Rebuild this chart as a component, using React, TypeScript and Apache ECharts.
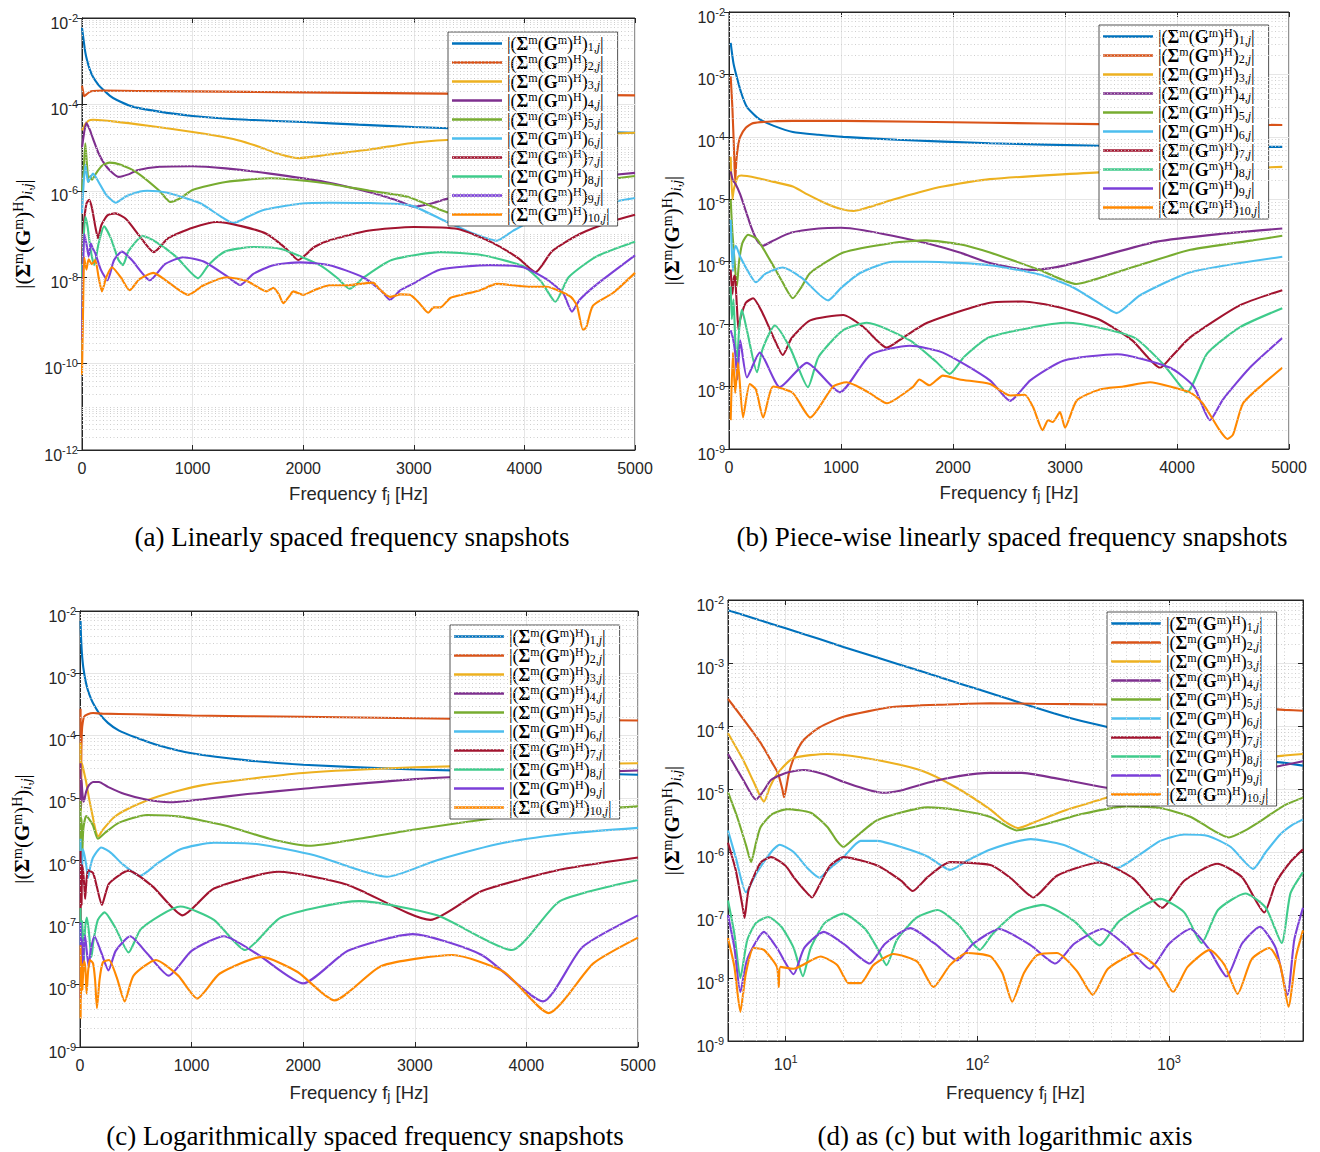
import { useEffect, useRef } from "react";
import * as echarts from "echarts";

type Pt = [number, number];

const LINE_COLORS = ["#0072BD", "#D95319", "#EDB120", "#7E2F8E", "#77AC30", "#4DBEEE", "#A2142F", "#3FCB8B", "#7B3FD8", "#FF8800"];

const CAPTIONS = [
  "(a) Linearly spaced frequency snapshots",
  "(b) Piece-wise linearly spaced frequency snapshots",
  "(c) Logarithmically spaced frequency snapshots",
  "(d) as (c) but with logarithmic axis",
];

const X_TICKS_LIN = [0, 1000, 2000, 3000, 4000, 5000];
const X_TICKS_LOG = [10, 100, 1000];
const Y_TICKS_A = [1e-12, 1e-10, 1e-8, 1e-6, 1e-4, 1e-2];
const Y_TICKS_B = [1e-9, 1e-8, 1e-7, 1e-6, 1e-5, 1e-4, 1e-3, 1e-2];
const MINOR_MULT = [1, 2, 3, 4, 5, 6, 7, 8, 9];

// ---------------- panel (a): linearly spaced snapshots ----------------
const a1: Pt[] = [[0, 6e-3], [15, 3e-3], [30, 1.6e-3], [45, 1.07e-3], [70, 6.5e-4], [100, 4.3e-4], [150, 2.8e-4], [190, 2.2e-4], [250, 1.6e-4], [315, 1.26e-4], [450, 9e-5], [700, 6.8e-5], [1000, 5.4e-5], [1500, 4.4e-5], [2000, 3.9e-5], [2500, 3.4e-5], [3000, 3e-5], [3500, 2.7e-5], [4000, 2.5e-5], [4500, 2.3e-5], [5000, 2.2e-5]];
const a2: Pt[] = [[0, 2.7e-4], [10, 2e-4], [20, 1.55e-4], [40, 1.7e-4], [70, 1.95e-4], [100, 2.05e-4], [200, 2.1e-4], [500, 2.05e-4], [1000, 2e-4], [2000, 1.9e-4], [3000, 1.8e-4], [4000, 1.7e-4], [5000, 1.62e-4]];
const a3: Pt[] = [[0, 2.5e-5], [30, 3.5e-5], [60, 4.2e-5], [100, 4.4e-5], [300, 4e-5], [600, 3.2e-5], [1000, 2.3e-5], [1200, 1.9e-5], [1400, 1.5e-5], [1600, 1.05e-5], [1750, 7.5e-6], [1950, 5.7e-6], [2100, 6.2e-6], [2250, 7e-6], [2600, 9e-6], [3000, 1.3e-5], [3300, 1.5e-5], [4000, 1.8e-5], [5000, 2.2e-5]];
const a4: Pt[] = [[0, 1e-5], [20, 2.3e-5], [40, 3.7e-5], [70, 2.6e-5], [100, 1.6e-5], [150, 7.4e-6], [200, 4.3e-6], [250, 3e-6], [330, 2.1e-6], [420, 2.4e-6], [500, 3e-6], [700, 3.6e-6], [1000, 3.7e-6], [1300, 3.3e-6], [1700, 2.5e-6], [2200, 1.6e-6], [2600, 9.3e-7], [2850, 6e-7], [3000, 4.3e-7], [3150, 5e-7], [3300, 6.5e-7], [3700, 1e-6], [4200, 1.6e-6], [4600, 2.1e-6], [5000, 2.6e-6]];
const a5: Pt[] = [[0, 1e-6], [15, 3e-6], [30, 1.26e-5], [45, 4e-6], [60, 1.6e-6], [75, 2.2e-6], [90, 1.8e-6], [130, 2.6e-6], [180, 3.8e-6], [250, 4.5e-6], [350, 4e-6], [500, 2.6e-6], [700, 1e-6], [800, 5.5e-7], [900, 7e-7], [1000, 1.05e-6], [1300, 1.6e-6], [1700, 1.95e-6], [2200, 1.5e-6], [2600, 1e-6], [2950, 7.2e-7], [3300, 3.2e-7], [3500, 3e-7], [3800, 5e-7], [4200, 1e-6], [4600, 1.6e-6], [5000, 2.2e-6]];
const a6: Pt[] = [[0, 3e-7], [15, 1.5e-6], [30, 4e-6], [45, 2.2e-6], [55, 1.6e-6], [75, 2e-6], [100, 2.5e-6], [150, 1.6e-6], [220, 8e-7], [305, 5.3e-7], [400, 7.5e-7], [525, 9.6e-7], [590, 1e-6], [770, 9e-7], [1065, 5.2e-7], [1250, 2.6e-7], [1370, 1.8e-7], [1500, 2.5e-7], [1640, 3.6e-7], [1970, 5e-7], [2240, 5.3e-7], [2600, 5.2e-7], [2970, 4.6e-7], [3300, 1.9e-7], [3550, 1e-7], [3750, 7e-8], [3900, 1.2e-7], [4100, 2.2e-7], [4500, 4e-7], [5000, 6.8e-7]];
const a7: Pt[] = [[0, 2e-8], [15, 1.5e-7], [40, 5e-7], [65, 6.2e-7], [90, 4e-7], [120, 1.5e-7], [145, 8e-8], [175, 1.6e-7], [230, 2.7e-7], [300, 3e-7], [400, 2.2e-7], [520, 9e-8], [650, 3.8e-8], [780, 8e-8], [1000, 1.4e-7], [1220, 1.9e-7], [1450, 1.5e-7], [1670, 1e-7], [1850, 4.5e-8], [1955, 2.5e-8], [2100, 5e-8], [2240, 7.2e-8], [2600, 1.2e-7], [3000, 1.45e-7], [3400, 1.3e-7], [3700, 6.5e-8], [3950, 2.7e-8], [4100, 1.3e-8], [4250, 4e-8], [4500, 1e-7], [4800, 2e-7], [5000, 2.8e-7]];
const a8: Pt[] = [[0, 1e-8], [15, 8e-8], [30, 2.5e-7], [50, 1.5e-7], [80, 4e-8], [110, 1.9e-8], [150, 6e-8], [200, 1.5e-7], [260, 8e-8], [330, 2.5e-8], [370, 1.9e-8], [420, 4e-8], [550, 9e-8], [650, 7e-8], [850, 3e-8], [1050, 9.5e-9], [1150, 2e-8], [1300, 4e-8], [1550, 5e-8], [1800, 4.5e-8], [2150, 1.9e-8], [2300, 1e-8], [2420, 5.4e-9], [2550, 1e-8], [2800, 2.5e-8], [3240, 3.8e-8], [3600, 3.3e-8], [3990, 1.8e-8], [4150, 8e-9], [4280, 2.7e-9], [4400, 1e-8], [4650, 3e-8], [5000, 6.6e-8]];
const a9: Pt[] = [[0, 3.5e-10], [8, 5e-9], [20, 1e-7], [40, 6e-8], [60, 3e-8], [80, 6e-8], [100, 4.5e-8], [120, 3.6e-8], [170, 1.5e-8], [230, 8.5e-9], [290, 2.5e-8], [360, 3.9e-8], [450, 2.5e-8], [615, 8.5e-9], [750, 2e-8], [915, 2.9e-8], [1100, 2.3e-8], [1300, 1.1e-8], [1430, 6.6e-9], [1550, 1.2e-8], [1730, 1.9e-8], [1970, 2.2e-8], [2240, 1.9e-8], [2540, 1e-8], [2700, 5e-9], [2785, 3e-9], [2880, 5e-9], [2990, 7e-9], [3240, 1.5e-8], [3690, 1.9e-8], [3990, 1.7e-8], [4200, 9e-9], [4350, 4.3e-9], [4430, 1.6e-9], [4500, 3e-9], [4660, 7e-9], [5000, 3.2e-8]];
const a10: Pt[] = [[0, 5.5e-11], [10, 2e-9], [20, 2.8e-8], [40, 1.5e-8], [60, 2.6e-8], [90, 2e-8], [120, 2.5e-8], [150, 1e-8], [180, 4.7e-9], [220, 1e-8], [270, 1.7e-8], [350, 1e-8], [430, 5e-9], [520, 9e-9], [645, 1.26e-8], [800, 7e-9], [960, 3.9e-9], [1100, 6.5e-9], [1310, 1e-8], [1500, 8e-9], [1670, 4.7e-9], [1730, 5.7e-9], [1780, 4e-9], [1820, 2.5e-9], [1870, 3.5e-9], [1910, 4.7e-9], [2000, 3.9e-9], [2100, 5e-9], [2240, 6.5e-9], [2400, 6.5e-9], [2630, 7.5e-9], [2700, 5e-9], [2785, 3.5e-9], [2880, 4e-9], [2965, 3.9e-9], [3050, 2.5e-9], [3130, 1.5e-9], [3180, 2e-9], [3240, 2e-9], [3330, 3.3e-9], [3450, 4e-9], [3600, 5e-9], [3750, 7e-9], [3900, 6.5e-9], [4050, 6e-9], [4200, 6e-9], [4300, 5e-9], [4420, 3.5e-9], [4475, 2.2e-9], [4530, 6e-10], [4560, 7e-10], [4620, 2.2e-9], [4800, 4.3e-9], [5000, 1.26e-8]];

// ---------------- panel (b): piece-wise linearly spaced snapshots ----------------
const b1: Pt[] = [[15, 3.2e-3], [40, 1.5e-3], [70, 9e-4], [110, 5e-4], [160, 3e-4], [220, 2.3e-4], [275, 1.9e-4], [400, 1.5e-4], [570, 1.2e-4], [800, 1.08e-4], [1020, 1e-4], [1500, 9e-5], [2330, 7.9e-5], [3310, 7.2e-5], [4940, 6.9e-5]];
const b2: Pt[] = [[15, 9.3e-4], [30, 3e-4], [45, 6e-5], [55, 1.9e-5], [65, 4e-5], [80, 7e-5], [100, 1e-4], [150, 1.4e-4], [215, 1.66e-4], [400, 1.78e-4], [570, 1.8e-4], [1020, 1.8e-4], [2330, 1.68e-4], [3300, 1.6e-4], [4940, 1.55e-4]];
const b3: Pt[] = [[15, 4.8e-5], [30, 1e-5], [45, 1.5e-5], [80, 2.3e-5], [110, 2.4e-5], [250, 2.2e-5], [400, 1.9e-5], [570, 1.6e-5], [700, 1.2e-5], [870, 8.5e-6], [1000, 7e-6], [1110, 6.5e-6], [1250, 7.5e-6], [1460, 9.8e-6], [1700, 1.3e-5], [1910, 1.6e-5], [2330, 2.1e-5], [3310, 2.7e-5], [4940, 3.3e-5]];
const b4: Pt[] = [[15, 2.8e-5], [35, 2e-5], [55, 1.8e-5], [100, 1.2e-5], [150, 6.5e-6], [200, 3.5e-6], [250, 2.2e-6], [300, 1.8e-6], [400, 2.2e-6], [550, 2.9e-6], [800, 3.4e-6], [1000, 3.5e-6], [1200, 3.2e-6], [1460, 2.6e-6], [1800, 1.9e-6], [2060, 1.4e-6], [2330, 9.5e-7], [2690, 7.4e-7], [2925, 8.2e-7], [3225, 1.1e-6], [3820, 2.1e-6], [4400, 2.8e-6], [4940, 3.4e-6]];
const b5: Pt[] = [[15, 9.9e-6], [30, 3e-6], [50, 1e-6], [70, 4e-7], [90, 1e-6], [120, 2e-6], [170, 2.7e-6], [250, 2.3e-6], [365, 1.07e-6], [470, 5e-7], [570, 2.6e-7], [650, 4e-7], [725, 6.6e-7], [1020, 1.4e-6], [1460, 2e-6], [1760, 2.2e-6], [2060, 1.9e-6], [2330, 1.4e-6], [2780, 7.3e-7], [3100, 4.4e-7], [3520, 7.3e-7], [4120, 1.55e-6], [4680, 2.2e-6], [4940, 2.6e-6]];
const b6: Pt[] = [[15, 4.7e-6], [25, 1.5e-6], [35, 7e-7], [45, 1.5e-6], [60, 1.8e-6], [100, 1.2e-6], [170, 7e-7], [240, 4.7e-7], [330, 6.5e-7], [480, 8.1e-7], [650, 5.5e-7], [885, 2.4e-7], [1000, 3.8e-7], [1170, 6.6e-7], [1460, 1e-6], [1760, 1e-6], [2330, 8.8e-7], [2780, 6.2e-7], [3070, 3.9e-7], [3375, 1.8e-7], [3460, 1.5e-7], [3670, 2.9e-7], [4120, 6.8e-7], [4940, 1.2e-6]];
const b7: Pt[] = [[15, 7.5e-7], [30, 3e-7], [45, 6e-7], [55, 5.6e-7], [70, 2e-7], [85, 8e-8], [100, 1.2e-7], [150, 2.2e-7], [215, 2.6e-7], [300, 1.5e-7], [400, 6e-8], [480, 3.2e-8], [560, 6e-8], [725, 1.15e-7], [1020, 1.4e-7], [1200, 9e-8], [1410, 4.2e-8], [1550, 6e-8], [1770, 1.05e-7], [2330, 2.2e-7], [2625, 2.3e-7], [2925, 1.9e-7], [3300, 1.2e-7], [3600, 5.5e-8], [3850, 2e-8], [3950, 3e-8], [4120, 6.2e-8], [4560, 2e-7], [4940, 3.5e-7]];
const b8: Pt[] = [[15, 4e-7], [25, 1.2e-7], [40, 2.5e-7], [55, 6e-8], [70, 2e-8], [90, 8e-8], [115, 1.7e-7], [160, 8e-8], [250, 1.7e-8], [300, 4e-8], [410, 9.5e-8], [550, 4e-8], [705, 9.8e-9], [800, 3e-8], [1020, 8e-8], [1230, 1.05e-7], [1615, 5.5e-8], [1850, 2.5e-8], [1970, 1.6e-8], [2100, 3e-8], [2330, 6.2e-8], [3020, 1.05e-7], [3610, 6.2e-8], [3875, 2.3e-8], [4040, 9.8e-9], [4090, 8.1e-9], [4270, 3.4e-8], [4560, 8.9e-8], [4940, 1.8e-7]];
const b9: Pt[] = [[15, 8e-8], [35, 6e-8], [55, 3.5e-8], [75, 1.3e-8], [100, 5.5e-8], [160, 1.4e-8], [275, 3.5e-8], [455, 9.8e-9], [695, 2.4e-8], [990, 8.1e-9], [1260, 3.2e-8], [1615, 4.5e-8], [1910, 3.5e-8], [2330, 1.26e-8], [2510, 5.9e-9], [2690, 1.26e-8], [2985, 2.6e-8], [3465, 3.3e-8], [3940, 2e-8], [4150, 1e-8], [4295, 2.9e-9], [4410, 6.2e-9], [4650, 2e-8], [4940, 6e-8]];
const b10: Pt[] = [[15, 2.9e-9], [35, 3.5e-8], [55, 7.9e-9], [80, 2.4e-8], [125, 3.2e-9], [185, 1.1e-8], [240, 9e-9], [305, 3.2e-9], [395, 1e-8], [570, 7.9e-9], [725, 3.2e-9], [930, 1e-8], [1050, 1.17e-8], [1250, 8e-9], [1410, 5.4e-9], [1645, 1e-8], [1700, 1.3e-8], [1790, 1.05e-8], [1910, 1.5e-8], [2060, 1.3e-8], [2330, 1.1e-8], [2510, 7.2e-9], [2640, 7.4e-9], [2715, 4.7e-9], [2800, 2e-9], [2850, 2.9e-9], [2890, 2.7e-9], [2955, 3.9e-9], [3000, 2.2e-9], [3105, 6e-9], [3310, 9e-9], [3520, 1e-8], [3760, 1.17e-8], [3940, 1e-8], [4120, 8e-9], [4230, 5.4e-9], [4380, 2e-9], [4450, 1.45e-9], [4500, 1.7e-9], [4590, 5.4e-9], [4770, 1.1e-8], [4940, 2e-8]];

// ---------------- panels (c) and (d): logarithmically spaced snapshots (same data) ----------------
const c1: Pt[] = [[5, 6.9e-3], [7, 5e-3], [10, 3.55e-3], [15, 2.4e-3], [20, 1.8e-3], [30, 1.22e-3], [50, 7.5e-4], [70, 5.4e-4], [100, 3.85e-4], [130, 3e-4], [170, 2.3e-4], [250, 1.6e-4], [350, 1.2e-4], [500, 9.3e-5], [700, 7e-5], [1000, 5.2e-5], [1500, 4e-5], [2000, 3.4e-5], [3000, 2.85e-5], [4000, 2.6e-5], [5000, 2.35e-5]];
const c2: Pt[] = [[5, 2.7e-4], [6, 1.3e-4], [7.4, 5.4e-5], [8.5, 2.6e-5], [9.1, 1.8e-5], [9.6, 1e-5], [9.8, 7.4e-6], [10.1, 1.1e-5], [10.4, 1.8e-5], [11.2, 3.5e-5], [12.4, 6e-5], [15, 9.5e-5], [20, 1.4e-4], [36, 2e-4], [70, 2.2e-4], [117, 2.3e-4], [200, 2.25e-4], [500, 2.2e-4], [1000, 2.1e-4], [2000, 2e-4], [3000, 1.9e-4], [4000, 1.8e-4], [5000, 1.75e-4]];
const c3: Pt[] = [[5, 7.7e-5], [6, 2.9e-5], [6.8, 1.3e-5], [7.7, 6.3e-6], [8.3, 1.1e-5], [9.1, 1.8e-5], [11, 3.1e-5], [16.5, 3.6e-5], [24.6, 3.2e-5], [40, 2.4e-5], [55, 1.8e-5], [80, 1e-5], [117, 4.7e-6], [140, 3e-6], [164, 2.4e-6], [200, 3e-6], [300, 4.8e-6], [440, 6.8e-6], [700, 1.05e-5], [1100, 1.6e-5], [2000, 2.5e-5], [3000, 3.1e-5], [4000, 3.4e-5], [5000, 3.6e-5]];
const c4: Pt[] = [[5, 3.6e-5], [6, 1.4e-5], [7, 6.8e-6], [7.6, 9e-6], [8.4, 1.4e-5], [10, 1.8e-5], [12.4, 2e-5], [16, 1.7e-5], [20, 1.3e-5], [26, 1e-5], [32, 8.7e-6], [40, 9.5e-6], [55, 1.26e-5], [80, 1.6e-5], [117, 1.8e-5], [170, 1.8e-5], [250, 1.5e-5], [400, 1.15e-5], [600, 9.3e-6], [800, 8.5e-6], [1100, 9.5e-6], [1500, 1.15e-5], [2000, 1.4e-5], [3000, 2e-5], [4000, 2.4e-5], [5000, 2.75e-5]];
const c5: Pt[] = [[5, 8.9e-6], [5.6, 3.5e-6], [6.2, 1.3e-6], [6.6, 6.9e-7], [7, 1.4e-6], [7.4, 2.5e-6], [8.5, 4e-6], [10.2, 4.8e-6], [13.5, 4.2e-6], [16.5, 2.5e-6], [18.5, 1.5e-6], [20, 1.2e-6], [22, 1.5e-6], [30, 3.2e-6], [55, 5.1e-6], [80, 4.6e-6], [117, 3.6e-6], [160, 2.2e-6], [220, 2.7e-6], [350, 4e-6], [600, 5.3e-6], [900, 5e-6], [1300, 3.6e-6], [1700, 2.2e-6], [2050, 1.7e-6], [2500, 2.2e-6], [3000, 3.1e-6], [4000, 5.5e-6], [5000, 7.3e-6]];
const c6: Pt[] = [[5, 2.2e-6], [5.5, 8e-7], [6.2, 2.3e-7], [7, 4.5e-7], [8.4, 1e-6], [9.3, 1.3e-6], [11, 1e-6], [13, 5.5e-7], [15, 3.9e-7], [17, 5.5e-7], [20, 8.3e-7], [24.6, 1.5e-6], [30, 1.5e-6], [40, 1.2e-6], [55, 8.5e-7], [72, 5.2e-7], [90, 7.5e-7], [117, 1.1e-6], [190, 1.6e-6], [280, 1.3e-6], [370, 9e-7], [537, 5.6e-7], [700, 9e-7], [900, 1.5e-6], [1200, 1.9e-6], [1600, 1.8e-6], [2100, 1.2e-6], [2750, 5.4e-7], [3200, 1e-6], [3800, 1.9e-6], [4400, 2.7e-6], [5000, 3.3e-6]];
const c7: Pt[] = [[5, 1.4e-6], [5.5, 5e-7], [6, 1.2e-7], [6.1, 9e-8], [6.4, 2.5e-7], [7.4, 6.8e-7], [8.4, 8.3e-7], [10, 6e-7], [11, 4e-7], [12.5, 2.5e-7], [13.7, 1.9e-7], [15, 3e-7], [17, 6e-7], [20, 8.3e-7], [30, 6.1e-7], [40, 3.5e-7], [46, 2.4e-7], [55, 4e-7], [72, 6.9e-7], [117, 6.2e-7], [150, 3.8e-7], [196, 1.9e-7], [260, 4.2e-7], [435, 6.8e-7], [650, 3.8e-7], [920, 1.3e-7], [1200, 3.5e-7], [1780, 6.5e-7], [2400, 4e-7], [3140, 1.1e-7], [3600, 3.2e-7], [4300, 7e-7], [5000, 1.1e-6]];
const c8: Pt[] = [[5, 1.7e-7], [5.4, 5e-8], [5.8, 1e-8], [6.3, 4e-8], [7, 7.5e-8], [8.1, 9.3e-8], [9.5, 6.5e-8], [11, 3e-8], [12.3, 1.07e-8], [13.5, 3e-8], [16, 7.5e-8], [20, 1.05e-7], [26, 6e-8], [30, 3e-8], [33.6, 1.6e-8], [38, 4e-8], [48, 9e-8], [62, 1.2e-7], [80, 7e-8], [95, 3.5e-8], [103, 2.8e-8], [120, 5e-8], [160, 1.1e-7], [220, 1.45e-7], [320, 8e-8], [435, 3.3e-8], [550, 8e-8], [900, 1.8e-7], [1200, 1.1e-7], [1480, 3.6e-8], [1800, 1.2e-7], [2500, 2.2e-7], [3200, 1.3e-7], [3870, 3.6e-8], [4300, 2.2e-7], [5000, 4.8e-7]];
const c9: Pt[] = [[5, 1e-7], [5.4, 3e-8], [5.8, 6e-9], [6.3, 2e-8], [7.7, 5.4e-8], [9, 3e-8], [11, 1.15e-8], [12.5, 3e-8], [15.8, 5.4e-8], [20, 3.5e-8], [27.4, 1.7e-8], [33, 3.5e-8], [44.7, 6.2e-8], [60, 3.5e-8], [78.5, 1.9e-8], [95, 3.5e-8], [130, 6e-8], [190, 3.3e-8], [255, 1.7e-8], [320, 3.5e-8], [450, 6e-8], [600, 3.2e-8], [795, 1.4e-8], [1000, 3.5e-8], [1290, 6e-8], [1600, 3e-8], [2000, 1.05e-8], [2400, 3.5e-8], [2980, 6.5e-8], [3600, 3e-8], [4150, 5.4e-9], [4500, 4e-8], [5000, 1.3e-7]];
const c10: Pt[] = [[5, 4.3e-8], [5.4, 1.5e-8], [5.8, 2.9e-9], [6.2, 1.2e-8], [6.8, 3e-8], [7.7, 2.8e-8], [9, 1.5e-8], [9.2, 7.2e-9], [9.4, 1.5e-8], [11, 1.4e-8], [15.2, 2.2e-8], [18.6, 1.6e-8], [21.3, 8.3e-9], [24.6, 8.3e-9], [28.7, 1.6e-8], [36.5, 2.4e-8], [48.7, 1.8e-8], [59, 7.2e-9], [72, 1.6e-8], [88, 2.5e-8], [117, 2.2e-8], [135, 1.2e-8], [152, 4.2e-9], [175, 1.2e-8], [205, 2.3e-8], [260, 2.5e-8], [330, 1.3e-8], [400, 5.4e-9], [480, 1.4e-8], [680, 2.5e-8], [880, 1.4e-8], [1050, 6e-9], [1250, 1.5e-8], [1630, 2.8e-8], [1950, 1.6e-8], [2280, 5.6e-9], [2700, 2e-8], [3340, 3e-8], [3800, 1.6e-8], [4200, 3.5e-9], [4600, 2.2e-8], [5000, 5.7e-8]];

const PANEL_A = [a1, a2, a3, a4, a5, a6, a7, a8, a9, a10];
const PANEL_B = [b1, b2, b3, b4, b5, b6, b7, b8, b9, b10];
const PANEL_C = [c1, c2, c3, c4, c5, c6, c7, c8, c9, c10];

const INK = "#262626";
const SANS = "Liberation Sans";
const SERIF = "Liberation Serif";

const LATEX_RICH = (size: number, lh: number) => ({
  b: { fontFamily: SERIF, fontSize: size, fontWeight: "bold", color: "#000", lineHeight: lh },
  sup: { fontFamily: SERIF, fontSize: Math.round(size * 0.68), verticalAlign: "top", lineHeight: 6, color: "#000" },
  sub: { fontFamily: SERIF, fontSize: Math.round(size * 0.68), verticalAlign: "bottom", lineHeight: 7, color: "#000" },
  subi: { fontFamily: SERIF, fontSize: Math.round(size * 0.68), fontStyle: "italic", verticalAlign: "bottom", lineHeight: 7, color: "#000" },
});

function expLabel(v: number) {
  const e = Math.round(Math.log10(v));
  if (Math.abs(Math.log10(v) - e) > 0.01) return "";
  return `{m|10}{e|${e}}`;
}

const EXP_RICH = {
  m: { fontFamily: SANS, fontSize: 16, color: INK, lineHeight: 22 },
  e: { fontFamily: SANS, fontSize: 11, color: INK, verticalAlign: "top", lineHeight: 10 },
};

function App() {
  const ref = useRef<HTMLDivElement>(null);
  useEffect(() => {
    if (!ref.current) return;
    const chart = echarts.init(ref.current, null, { renderer: "svg" });

    const grids = [
      { left: 82, top: 18, width: 553, height: 432 },
      { left: 729, top: 12, width: 560, height: 437 },
      { left: 80, top: 611, width: 558, height: 436 },
      { left: 728, top: 600, width: 575, height: 441 },
    ].map((g) => ({ ...g, show: true, borderColor: INK, borderWidth: 1, backgroundColor: "#fff" }));
    const xRange = [[0, 5000], [0, 5000], [0, 5000], [5, 5000]];
    const yRange = [[1e-12, 1e-2], [1e-9, 1e-2], [1e-9, 1e-2], [1e-9, 1e-2]];
    const yTicks = [Y_TICKS_A, Y_TICKS_B, Y_TICKS_B, Y_TICKS_B];

    const xName = {
      name: "Frequency f{s|j} [Hz]",
      nameLocation: "middle",
      nameTextStyle: {
        fontFamily: SANS, fontSize: 18.5, color: INK, lineHeight: 22,
        rich: { s: { fontFamily: SANS, fontSize: 14, color: INK, verticalAlign: "bottom", lineHeight: 8 } },
      },
    };
    const gridLine = { show: true, lineStyle: { color: "#e6e6e6", width: 1 } };
    const tickStyle = (vals: number[]) => ({ show: true, inside: true, length: 5, lineStyle: { color: INK }, customValues: vals });

    const xLin = (gi: number, nameGap: number) => ({
      type: "value", gridIndex: gi, min: 0, max: 5000, interval: 1000,
      axisLine: { show: true, onZero: false, lineStyle: { color: INK } },
      axisTick: tickStyle(X_TICKS_LIN),
      axisLabel: { margin: 10, color: INK, fontFamily: SANS, fontSize: 16, customValues: X_TICKS_LIN, formatter: (v: number) => String(v) },
      splitLine: gridLine,
      ...xName, nameGap,
    });

    const xLog = (gi: number, nameGap: number) => ({
      type: "log", logBase: 10, gridIndex: gi, min: 5, max: 5000,
      axisLine: { show: true, onZero: false, lineStyle: { color: INK } },
      axisTick: tickStyle(X_TICKS_LOG),
      axisLabel: { margin: 12, formatter: expLabel, rich: EXP_RICH, customValues: X_TICKS_LOG },
      splitLine: gridLine,
      ...xName, nameGap,
    });

    // mirrored axes on top / right (box with inside ticks, no labels)
    const xTop = (gi: number) => ({
      type: gi === 3 ? "log" : "value", logBase: 10, gridIndex: gi, position: "top", min: xRange[gi][0], max: xRange[gi][1],
      axisLine: { show: true, onZero: false, lineStyle: { color: INK } },
      axisTick: tickStyle(gi === 3 ? X_TICKS_LOG : X_TICKS_LIN),
      axisLabel: { show: false }, splitLine: { show: false },
    });
    const yRight = (gi: number) => ({
      type: "log", logBase: 10, gridIndex: gi, position: "right", min: yRange[gi][0], max: yRange[gi][1],
      axisLine: { show: true, lineStyle: { color: INK } },
      axisTick: tickStyle(yTicks[gi]),
      axisLabel: { show: false }, splitLine: { show: false },
    });

    const yLog = (gi: number, nameGap: number) => ({
      type: "log", logBase: 10, gridIndex: gi, min: yRange[gi][0], max: yRange[gi][1], position: "left",
      axisLine: { show: true, lineStyle: { color: INK } },
      axisTick: tickStyle(yTicks[gi]),
      axisLabel: { margin: 4, padding: [10, 0, 0, 0], formatter: expLabel, rich: EXP_RICH, customValues: yTicks[gi] },
      splitLine: gridLine,
      name: "|({b|Σ}{sup|m}({b|G}{sup|m}){sup|H}){subi|i,j}|",
      nameLocation: "middle", nameRotate: 90, nameGap,
      nameTextStyle: { fontFamily: SERIF, fontSize: 21, color: "#000", lineHeight: 23, rich: LATEX_RICH(21, 23) },
    });

    // minor (dotted) grid lines at k*10^e, positioned by the axes' own scales via markLine coordinates
    const minorY = (gi: number) => {
      const [lo, hi] = yRange[gi];
      const [x0, x1] = xRange[gi];
      const majors = yTicks[gi];
      const out: any[] = [];
      for (let e = Math.round(Math.log10(lo)); e < Math.round(Math.log10(hi)); e++) {
        MINOR_MULT.forEach((k) => {
          const v = k * Math.pow(10, e);
          if (!majors.some((m) => Math.abs(m - v) / v < 1e-6)) out.push([{ coord: [x0, v] }, { coord: [x1, v] }]);
        });
      }
      return out;
    };
    const minorX = (gi: number) => {
      const [y0, y1] = yRange[gi];
      const out: any[] = [];
      for (let e = 0; e < 4; e++) {
        MINOR_MULT.forEach((k) => {
          const v = k * Math.pow(10, e);
          if (k > 1 && v > 5 && v < 5000) out.push([{ coord: [v, y0] }, { coord: [v, y1] }]);
        });
      }
      return out;
    };

    const minorSeries = (gi: number, data: any[]) => ({
      type: "line", xAxisIndex: gi, yAxisIndex: gi, data: [], silent: true, z: 1,
      markLine: {
        silent: true, symbol: ["none", "none"], animation: false,
        label: { show: false },
        lineStyle: { type: [1, 2.5], color: "#cfcfcf", width: 1 },
        emphasis: { disabled: true },
        data,
      },
    });

    const mkSeries = (sets: Pt[][], prefix: string, gi: number) =>
      sets.map((d, i) => ({
        type: "line", name: `${prefix}-${i + 1}`, xAxisIndex: gi, yAxisIndex: gi, data: d,
        symbol: "none", showSymbol: false, smooth: 0.2, silent: true, z: 3,
        lineStyle: { width: 2.1, color: LINE_COLORS[i] }, itemStyle: { color: LINE_COLORS[i] },
      }));

    const legendFormatter = (name: string) => {
      const k = name.split("-")[1];
      return `|({b|Σ}{sup|m}({b|G}{sup|m}){sup|H}){sub|${k},}{subi|j}|`;
    };
    const mkLegend = (prefix: string, left: number, top: number) => ({
      data: LINE_COLORS.map((_, i) => `${prefix}-${i + 1}`),
      orient: "vertical", left, top, itemWidth: 50, itemHeight: 2.5, itemGap: 0, icon: "rect",
      padding: [2, 8, 2, 4], backgroundColor: "#fff", borderColor: INK, borderWidth: 0.8,
      selectedMode: false, formatter: legendFormatter,
      textStyle: { fontFamily: SERIF, fontSize: 18, color: "#000", lineHeight: 19, rich: LATEX_RICH(18, 19) },
    });

    const captions = [
      { x: 352, y: 537 }, { x: 1012, y: 537 }, { x: 365, y: 1136 }, { x: 1005, y: 1136 },
    ].map((p, i) => ({
      type: "text", x: p.x, y: p.y, silent: true,
      style: { text: CAPTIONS[i], fontFamily: SERIF, fontSize: 27, fill: "#000", align: "center", verticalAlign: "middle", textAlign: "center", textVerticalAlign: "middle" },
    }));

    const option: any = {
      animation: false,
      backgroundColor: "#fff",
      grid: grids,
      xAxis: [xLin(0, 32), xLin(1, 32), xLin(2, 34), xLog(3, 40), xTop(0), xTop(1), xTop(2), xTop(3)],
      yAxis: [yLog(0, 48), yLog(1, 46), yLog(2, 47), yLog(3, 45), yRight(0), yRight(1), yRight(2), yRight(3)],
      legend: [mkLegend("a", 448, 32), mkLegend("b", 1099, 25), mkLegend("c", 450, 625), mkLegend("d", 1107, 612)],
      series: [
        minorSeries(0, minorY(0)),
        minorSeries(1, minorY(1)),
        minorSeries(2, minorY(2)),
        minorSeries(3, [...minorY(3), ...minorX(3)]),
        ...mkSeries(PANEL_A, "a", 0),
        ...mkSeries(PANEL_B, "b", 1),
        ...mkSeries(PANEL_C, "c", 2),
        ...mkSeries(PANEL_C, "d", 3),
      ],
      graphic: captions,
    };
    chart.setOption(option);
    return () => chart.dispose();
  }, []);
  return <div ref={ref} style={{ position: "absolute", left: 0, top: 0, width: 1320, height: 1152 }} />;
}

export default App;
